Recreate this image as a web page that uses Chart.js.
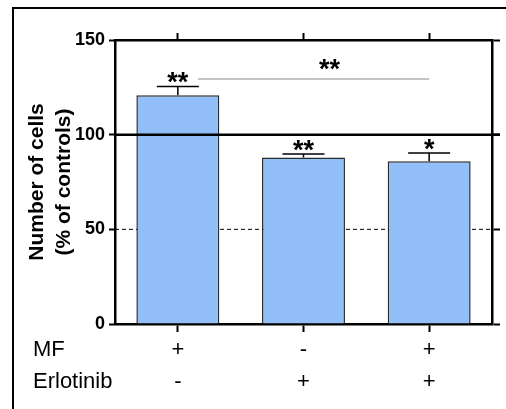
<!DOCTYPE html>
<html lang="en">
<head>
    <meta charset="UTF-8">
    <title>Number of cells</title>
    <script src="https://cdn.jsdelivr.net/npm/chart.js@4.4.0/dist/chart.umd.min.js"></script>
    <style>
        html, body {
            margin: 0;
            padding: 0;
            background: white;
            overflow: hidden;
        }

        .frame {
            position: absolute;
            left: 12px;
            top: 7px;
            width: 600px;
            height: 500px;
            border-left: 2px solid #000;
            border-top: 2px solid #000;
        }

        canvas {
            position: absolute;
            left: 0;
            top: 0;
        }
    </style>
</head>
<body>
    <div class="frame"></div>
    <canvas id="cellsChart" width="506" height="409"></canvas>

    <script>
        'use strict';

        // treatment rows shown under the bars
        const rowLabels = ['MF', 'Erlotinib'];
        const mfRow = ['+', '-', '+'];
        const erlotinibRow = ['-', '+', '+'];

        // % of controls, mean and SEM (upper bar only)
        const cellValues = [120.8, 88.0, 85.9];
        const cellErrors = [4.7, 1.8, 4.4];

        // significance marks
        const sigLabels = ['**', '**', '*'];
        const bracket = { from: 0, to: 2, value: 129.4, label: '**' };

        // reference lines
        const controlLevel = 100;
        const halfLevel = 50;

        const yTicks = [0, 50, 100, 150];

        const labels = mfRow.map((m, i) => [m, erlotinibRow[i]]);
        const FONT = '"Liberation Sans", Arial, sans-serif';
        const STAR_SIZE = 27;

        const fixSize = (w, h) => scale => {
            if (w !== null) scale.width = w;
            if (h !== null) scale.height = h;
        };

        const extrasPlugin = {
            id: 'extras',
            beforeDatasetsDraw(chart) {
                const { ctx, chartArea } = chart;
                const y = chart.scales.y.getPixelForValue(halfLevel);
                ctx.save();
                ctx.strokeStyle = '#000';
                ctx.lineWidth = 1;
                ctx.setLineDash([4, 3]);
                ctx.beginPath();
                ctx.moveTo(chartArea.left, y);
                ctx.lineTo(chartArea.right, y);
                ctx.stroke();
                ctx.restore();
            },
            afterDatasetsDraw(chart) {
                const { ctx, chartArea } = chart;
                const xs = chart.scales.x;
                const ys = chart.scales.y;
                ctx.save();

                // control line at 100%
                const y100 = ys.getPixelForValue(controlLevel);
                ctx.strokeStyle = '#000';
                ctx.lineWidth = 2.5;
                ctx.beginPath();
                ctx.moveTo(chartArea.left, y100);
                ctx.lineTo(chartArea.right + 8, y100);
                ctx.stroke();

                // error bars + stars
                const meta = chart.getDatasetMeta(0);
                ctx.lineWidth = 1.5;
                ctx.fillStyle = '#000';
                ctx.font = 'bold ' + STAR_SIZE + 'px ' + FONT;
                ctx.textAlign = 'center';
                ctx.textBaseline = 'alphabetic';
                meta.data.forEach((bar, i) => {
                    const x = bar.x;
                    const yBase = ys.getPixelForValue(cellValues[i]);
                    const yTop = ys.getPixelForValue(cellValues[i] + cellErrors[i]);
                    ctx.beginPath();
                    ctx.moveTo(x, yBase);
                    ctx.lineTo(x, yTop);
                    ctx.moveTo(x - 21, yTop);
                    ctx.lineTo(x + 21, yTop);
                    ctx.stroke();
                    ctx.fillText(sigLabels[i], x, yTop - 10.5 + 0.57 * STAR_SIZE);
                });

                // bracket between first and last group
                const yb = ys.getPixelForValue(bracket.value);
                const x1 = xs.getPixelForValue(bracket.from) + 20;
                const x2 = xs.getPixelForValue(bracket.to);
                ctx.strokeStyle = '#888';
                ctx.lineWidth = 1;
                ctx.beginPath();
                ctx.moveTo(x1, yb);
                ctx.lineTo(x2, yb);
                ctx.stroke();
                ctx.fillText(bracket.label, (x1 + x2) / 2 + 16, yb - 16 + 0.57 * STAR_SIZE);

                ctx.restore();
            },
            afterDraw(chart) {
                const { ctx } = chart;
                const xs = chart.scales.x;
                ctx.save();
                ctx.fillStyle = '#000';
                ctx.font = '22px ' + FONT;
                ctx.textAlign = 'left';
                ctx.textBaseline = 'middle';
                rowLabels.forEach((t, i) => {
                    ctx.fillText(t, 33, xs.top + 8 + 2 + 16 + i * 32);
                });
                ctx.restore();
            }
        };

        const ctx = document.getElementById('cellsChart').getContext('2d');
        const cellsChart = new Chart(ctx, {
            type: 'bar',
            data: {
                labels: labels,
                datasets: [{
                    data: cellValues,
                    backgroundColor: '#92bff8',
                    borderColor: '#2a2a2a',
                    borderWidth: 1.5,
                    barPercentage: 0.66,
                    categoryPercentage: 1.0,
                    xAxisID: 'x',
                    yAxisID: 'y'
                }]
            },
            options: {
                responsive: false,
                animation: false,
                layout: { padding: 0 },
                plugins: {
                    legend: { display: false },
                    tooltip: { enabled: false }
                },
                scales: {
                    x: {
                        position: 'bottom',
                        afterFit: fixSize(null, 85),
                        grid: {
                            offset: false,
                            drawOnChartArea: false,
                            tickLength: 8,
                            tickWidth: 2,
                            tickColor: '#000'
                        },
                        border: { color: '#000', width: 2.5 },
                        ticks: {
                            color: '#000',
                            padding: 2,
                            maxRotation: 0,
                            font: { family: FONT, size: 22, lineHeight: 32 / 22 }
                        }
                    },
                    xTop: {
                        type: 'category',
                        position: 'top',
                        afterFit: fixSize(null, 40),
                        grid: {
                            offset: false,
                            drawOnChartArea: false,
                            tickLength: 7,
                            tickWidth: 2,
                            tickColor: '#000'
                        },
                        border: { color: '#000', width: 2.5 },
                        ticks: { display: false }
                    },
                    y: {
                        position: 'left',
                        min: 0,
                        max: 150,
                        afterFit: fixSize(115, null),
                        afterBuildTicks: s => { s.ticks = yTicks.map(v => ({ value: v })); },
                        grid: {
                            drawOnChartArea: false,
                            tickLength: 6,
                            tickWidth: 2,
                            tickColor: '#000'
                        },
                        border: { color: '#000', width: 2.5 },
                        ticks: {
                            color: '#000',
                            padding: 4,
                            font: { family: FONT, size: 18, weight: 'bold' }
                        },
                        title: {
                            display: true,
                            text: ['Number of cells', '(% of controls)'],
                            color: '#000',
                            padding: { top: 24, bottom: 0 },
                            font: { family: FONT, size: 21, weight: 'bold', lineHeight: 27 / 21 }
                        }
                    },
                    yRight: {
                        position: 'right',
                        min: 0,
                        max: 150,
                        afterFit: fixSize(14, null),
                        afterBuildTicks: s => { s.ticks = yTicks.map(v => ({ value: v })); },
                        grid: {
                            drawOnChartArea: false,
                            tickLength: 8,
                            tickWidth: 2,
                            tickColor: '#000'
                        },
                        border: { color: '#000', width: 2.5 },
                        ticks: { display: false }
                    }
                }
            },
            plugins: [extrasPlugin]
        });
    </script>
</body>
</html>
